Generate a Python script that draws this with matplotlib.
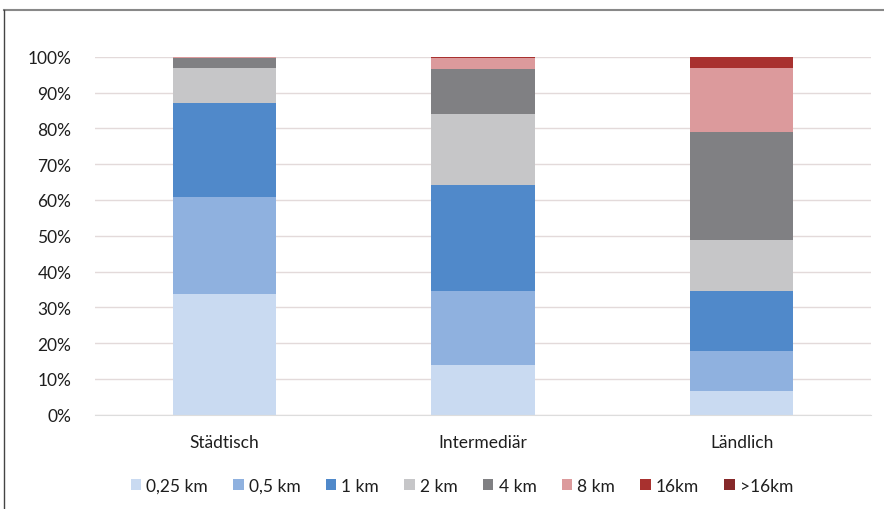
import matplotlib
matplotlib.use("Agg")
import matplotlib.pyplot as plt
from matplotlib.lines import Line2D
import numpy as np

categories = ["Städtisch", "Intermediär", "Ländlich"]
series_names = ["0,25 km", "0,5 km", "1 km", "2 km", "4 km", "8 km", "16km", ">16km"]
# share of each distance band per area type, in percent
v_025 = [33.7, 13.9, 6.7]
v_05 = [27.0, 20.6, 11.0]
v_1 = [26.3, 29.7, 16.8]
v_2 = [9.8, 19.8, 14.4]
v_4 = [2.8, 12.6, 30.0]
v_8 = [0.4, 3.1, 17.9]
v_16 = [0.0, 0.3, 3.2]
v_gt16 = [0.0, 0.0, 0.0]
y_ticks = [0, 10, 20, 30, 40, 50, 60, 70, 80, 90, 100]

series = [v_025, v_05, v_1, v_2, v_4, v_8, v_16, v_gt16]
colors = ["#c9daf1", "#8fb1df", "#5089ca", "#c6c6c8", "#808083",
          "#dc9a9c", "#a8312f", "#86292a"]

plt.rcParams["font.family"] = ["Lato", "DejaVu Sans"]

fig = plt.figure(figsize=(8.84, 5.10), dpi=100)
ax = fig.add_axes([95 / 884, 1 - 415.7 / 510, 776 / 884, (415.7 - 57.7) / 510])

x = np.arange(len(categories))
bottom = np.zeros(len(categories))
for name, vals, c in zip(series_names, series, colors):
    vals = np.array(vals, dtype=float)
    ax.bar(x, vals, width=0.4, bottom=bottom, color=c, label=name,
           zorder=3, linewidth=0)
    bottom += vals

ax.set_xlim(-0.5, len(categories) - 0.5)
ax.set_ylim(0, 100)
ax.set_yticks(y_ticks)
ax.set_yticklabels([f"{t}%" for t in y_ticks])
ax.set_xticks(x)
ax.set_xticklabels(categories)
ax.tick_params(axis="both", length=0, labelsize=12.5, colors="#1e1e1e")
ax.tick_params(axis="y", pad=17)
ax.tick_params(axis="x", pad=14)
ax.grid(axis="y", color="#e3dada", linewidth=1, zorder=0)
for s in ["top", "right", "left"]:
    ax.spines[s].set_visible(False)
ax.spines["bottom"].set_color("#dddddd")
ax.spines["bottom"].set_zorder(4)

leg = fig.legend(*ax.get_legend_handles_labels(), loc="center",
                 bbox_to_anchor=(462 / 884, 1 - 487 / 510), ncol=8,
                 frameon=False, fontsize=12.5, handlelength=0.6,
                 handleheight=0.6, handletextpad=0.3, columnspacing=1.45)
for t in leg.get_texts():
    t.set_color("#1e1e1e")

# outer frame lines at top and left
fig.add_artist(Line2D([4 / 884, 1], [1 - 11 / 510, 1 - 11 / 510],
                      transform=fig.transFigure, color="#888888", linewidth=1.5))
fig.add_artist(Line2D([4 / 884, 4 / 884], [0, 1 - 11 / 510],
                      transform=fig.transFigure, color="#444444", linewidth=1))

fig.savefig("out.png", dpi=100)
